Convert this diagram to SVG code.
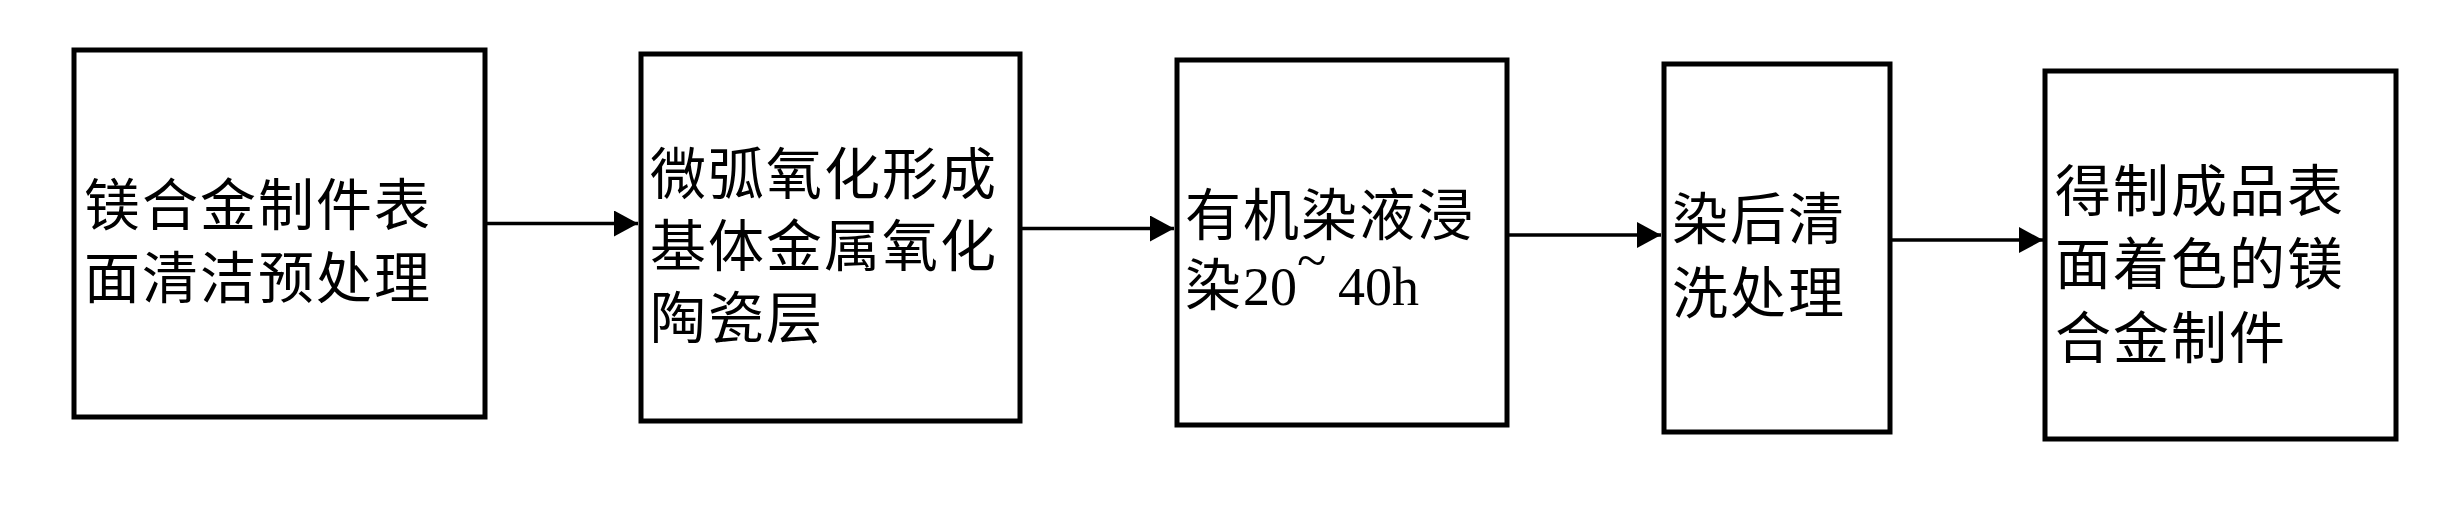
<svg xmlns="http://www.w3.org/2000/svg" width="2451" height="509" viewBox="0 0 2451 509">
<style>
.box{fill:#fff;stroke:#000;stroke-width:5}
.t{font-family:"Noto Sans CJK SC","Noto Sans",sans-serif;font-size:56px;letter-spacing:2px;fill:#000}
.d{font-family:"Liberation Serif",serif;font-size:54px;letter-spacing:0}
.c{stroke:#000;stroke-width:3.5;fill:none;marker-end:url(#ah)}
</style>
<defs>
<marker id="ah" markerUnits="userSpaceOnUse" markerWidth="24" markerHeight="26" refX="24" refY="13" orient="auto" viewBox="0 0 24 26">
<path d="M0,0 L24,13 L0,26 Z" fill="#000"/>
</marker>
</defs>
<rect width="2451" height="509" fill="#fff"/>
<g id="connectors">
<line class="c" x1="485" y1="223.5" x2="638" y2="223.5"/>
<line class="c" x1="1020" y1="228.5" x2="1174" y2="228.5"/>
<line class="c" x1="1507" y1="235" x2="1661" y2="235"/>
<line class="c" x1="1890" y1="240" x2="2043" y2="240"/>
</g>
<g id="n1">
<rect class="box" x="74" y="50" width="411" height="367"/>
<text class="t"><tspan x="84" y="225">镁合金制件表</tspan><tspan x="84" y="298">面清洁预处理</tspan></text>
</g>
<g id="n2">
<rect class="box" x="641" y="54" width="379" height="367"/>
<text class="t"><tspan x="650" y="194">微弧氧化形成</tspan><tspan x="650" y="266">基体金属氧化</tspan><tspan x="650" y="338">陶瓷层</tspan></text>
</g>
<g id="n3">
<rect class="box" x="1177" y="60" width="330" height="365"/>
<text class="t"><tspan x="1185" y="235">有机染液浸</tspan><tspan x="1185" y="305">染</tspan><tspan class="d">20</tspan><tspan class="d" font-size="60" dy="-26">~</tspan><tspan class="d" x="1338" y="305">40h</tspan></text>
</g>
<g id="n4">
<rect class="box" x="1664" y="64" width="226" height="368"/>
<text class="t"><tspan x="1672" y="239">染后清</tspan><tspan x="1672" y="313">洗处理</tspan></text>
</g>
<g id="n5">
<rect class="box" x="2045" y="71" width="351" height="368"/>
<text class="t"><tspan x="2055" y="211">得制成品表</tspan><tspan x="2055" y="284">面着色的镁</tspan><tspan x="2055" y="358">合金制件</tspan></text>
</g>
</svg>
